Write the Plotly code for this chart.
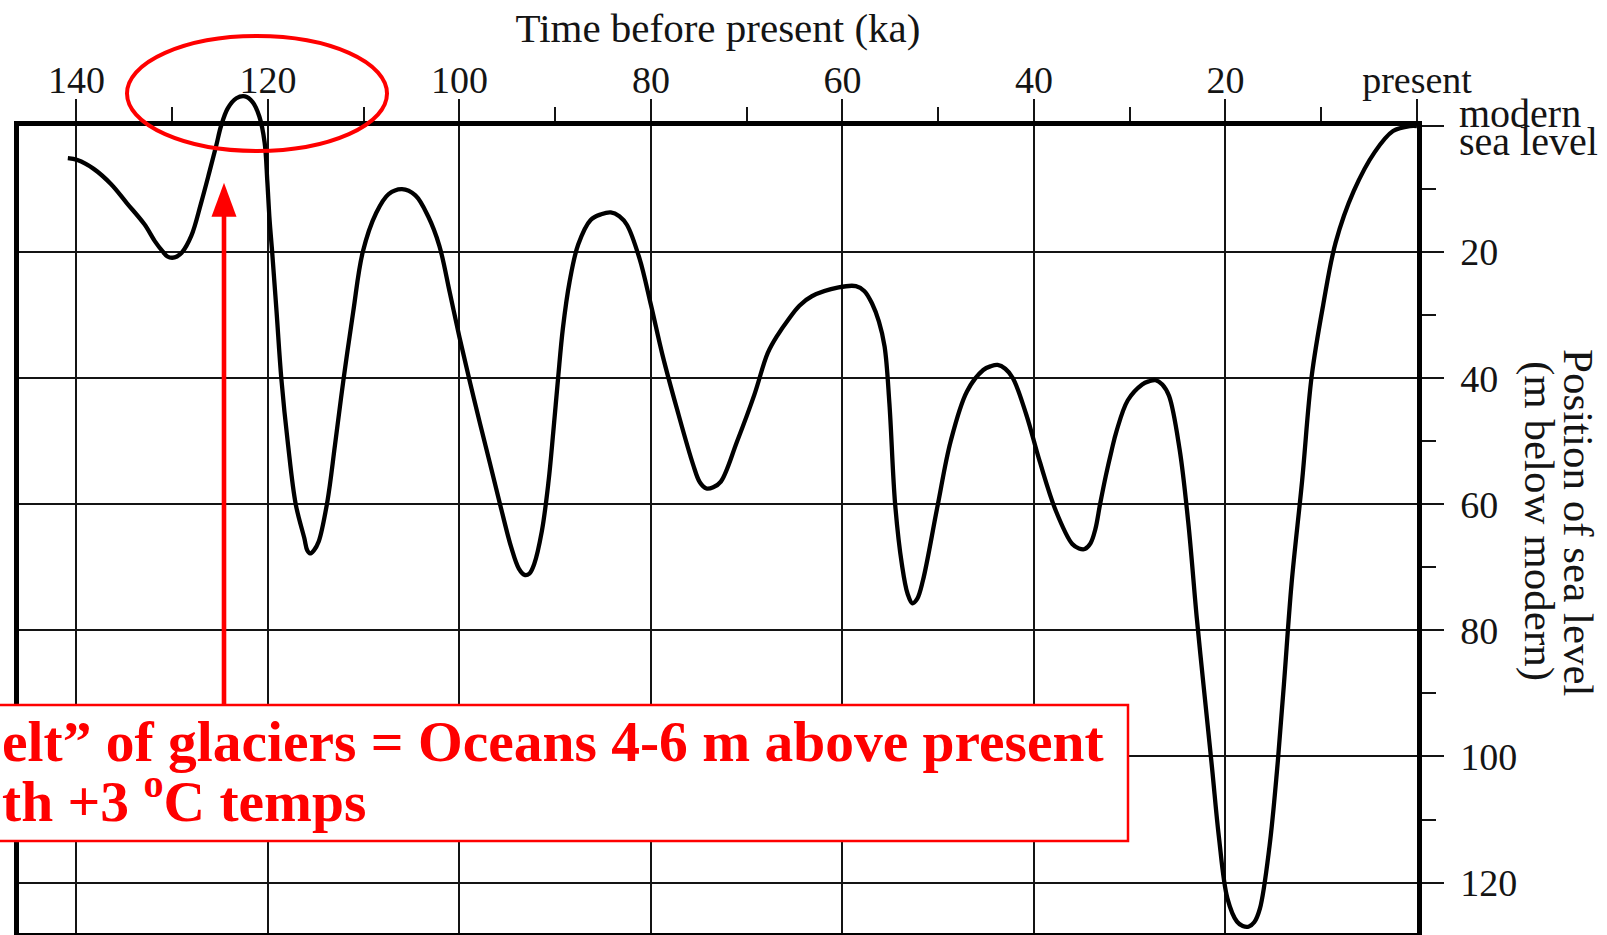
import plotly.graph_objects as go

# ---------------- data ----------------
age_ka = [140.9, 139.9, 138.2, 136.4, 134.7, 132.9, 131.8, 131.0, 130.5, 130.0,
          129.5, 129.0, 128.0, 127.0, 126.1, 125.4, 124.9, 124.2, 123.3, 122.4,
          121.6, 120.9, 120.35, 120.07, 119.83, 119.56, 119.1, 118.6, 117.9, 117.1,
          116.2, 115.9, 115.6, 115.2, 114.7, 113.8, 113.0, 112.1, 111.1, 110.1,
          108.7, 107.4, 106.0, 104.6, 103.25, 102.1, 101.0, 100.0, 98.5, 96.8,
          95.6, 94.6, 93.8, 93.2, 92.7, 92.2, 91.4, 90.7, 90.2, 89.7,
          89.2, 88.5, 87.6, 86.3, 85.2, 84.2, 83.3, 82.5, 81.2, 80.0,
          78.8, 77.3, 75.6, 74.9, 74.2, 73.5, 72.7, 71.0, 69.2, 67.8,
          66.7, 65.7, 64.5, 63.2, 60.4, 58.6, 57.7, 56.9, 56.2, 55.6,
          55.1, 54.5, 53.8, 53.2, 52.7, 52.2, 51.6, 50.1, 48.7, 47.0,
          45.3, 44.5, 43.8, 43.0, 42.2, 40.8, 39.4, 37.7, 36.0, 35.3,
          34.7, 34.1, 33.6, 33.1, 32.5, 31.9, 31.4, 30.2, 28.7, 28.0,
          27.3, 26.6, 25.9, 24.8, 23.9, 23.0, 22.3, 21.4, 20.7, 19.8,
          18.8, 18.2, 17.6, 17.0, 16.4, 15.4, 14.6, 13.9, 13.1, 12.0,
          11.0, 9.8, 8.5, 6.6, 4.4, 2.5, 0.7, 0.0]
sea_level_m = [5.1, 5.4, 6.8, 9.2, 12.3, 15.6, 18.3, 19.9, 20.7, 20.9,
               20.7, 20.1, 17.4, 12.3, 7.2, 3.1, 0.0, -2.8, -4.4, -4.7,
               -3.8, -1.5, 2.6, 8.7, 14.9, 20.0, 29.5, 40.1, 50.6, 60.0,
               65.4, 67.3, 67.8, 67.3, 65.9, 59.6, 50.6, 40.1, 29.5, 20.0,
               13.8, 10.8, 10.0, 11.0, 14.4, 19.0, 26.5, 33.5, 43.2, 53.6,
               61.0, 66.8, 70.2, 71.2, 71.0, 69.5, 64.3, 56.4, 48.5, 40.0,
               32.1, 24.7, 18.8, 14.9, 14.0, 13.7, 14.3, 15.7, 21.0, 28.4,
               36.3, 44.8, 53.7, 56.5, 57.5, 57.3, 56.4, 50.0, 42.6, 36.0,
               33.0, 30.8, 28.5, 27.0, 25.6, 25.4, 26.2, 28.2, 31.0, 35.0,
               44.0, 60.0, 69.5, 74.2, 75.7, 75.0, 72.1, 60.5, 50.0, 42.1,
               38.7, 38.1, 37.9, 38.5, 40.0, 45.8, 53.2, 61.1, 66.3, 67.0,
               67.1, 66.2, 64.0, 60.0, 55.5, 51.5, 48.5, 43.5, 41.0, 40.5,
               40.3, 41.0, 42.8, 51.2, 62.7, 78.0, 88.6, 101.9, 112.6, 122.5,
               126.2, 126.9, 127.0, 126.3, 124.1, 114.2, 101.9, 88.6, 72.6, 56.3,
               39.7, 28.4, 18.5, 10.3, 4.1, 0.8, 0.0, 0.0]

x_major_ticks = [140, 120, 100, 80, 60, 40, 20, 0]
x_major_labels = ["140", "120", "100", "80", "60", "40", "20", "present"]
x_minor_ticks = [130, 110, 90, 70, 50, 30, 10]
y_major_ticks = [0, 20, 40, 60, 80, 100, 120]
y_major_labels = ["", "20", "40", "60", "80", "100", "120"]
y_minor_ticks = [10, 30, 50, 70, 90, 110]

x_title = "Time before present (ka)"
y_title_lines = ["Position of sea level", "(m below modern)"]
zero_label_lines = ["modern", "sea level"]
note_lines = ["elt\u201d of glaciers = Oceans 4-6 m above present",
              "th +3 <sup>o</sup>C temps"]

# ---------------- geometry ----------------
W, H = 1607, 935
ML, MR, MT, MB = 19, 190, 60, 2
PW = W - ML - MR
PH = H - MT - MB
FRAME_TOP = 126
FRAME_BOTTOM = H - MB
X_RANGE = [146, 0]
Y_MAX = 128
px_per_m = (FRAME_BOTTOM - FRAME_TOP) / Y_MAX
main_dom_top = (FRAME_BOTTOM - FRAME_TOP) / PH
y2_top = Y_MAX - PH / px_per_m


def fx(px):
    return (px - ML) / PW


def fy(py):
    return (H - MB - py) / PH


SERIF = "Liberation Serif, Times New Roman, serif"
INK = "#141414"
RED = "#ff0000"

fig = go.Figure()
# empty trace to hold the framed subplot
fig.add_trace(go.Scatter(x=[], y=[], xaxis="x", yaxis="y", showlegend=False))
# the sea-level curve, drawn on an overlay that extends above the frame
fig.add_trace(go.Scatter(
    x=age_ka, y=sea_level_m, mode="lines",
    line=dict(color="black", width=4.3, shape="spline", smoothing=1.0),
    xaxis="x2", yaxis="y2", showlegend=False, hoverinfo="skip"))

tickfont = dict(family=SERIF, size=38, color=INK)

fig.update_layout(
    width=W, height=H,
    margin=dict(l=ML, r=MR, t=MT, b=MB, autoexpand=False),
    paper_bgcolor="white", plot_bgcolor="rgba(0,0,0,0)",
    showlegend=False,
    xaxis=dict(
        domain=[0, 1], range=X_RANGE, side="top", anchor="y",
        tickmode="array", tickvals=x_major_ticks, ticktext=x_major_labels,
        ticks="outside", ticklen=22, tickwidth=1.6, tickcolor=INK,
        showgrid=True, gridcolor=INK, gridwidth=1.5,
        showline=True, linecolor="black", linewidth=4.5, mirror=True,
        zeroline=False, tickfont=tickfont, ticklabelstandoff=-9,
        minor=dict(tickvals=x_minor_ticks, ticks="outside", ticklen=14,
                   tickwidth=1.6, tickcolor=INK, showgrid=False),
        title=dict(text=x_title, font=dict(family=SERIF, size=41, color=INK),
                   standoff=5),
        automargin=False, fixedrange=True,
    ),
    yaxis=dict(
        domain=[0, main_dom_top], range=[Y_MAX, 0], side="right", anchor="x",
        tickmode="array", tickvals=y_major_ticks, ticktext=y_major_labels,
        ticks="outside", ticklen=22, tickwidth=1.6, tickcolor=INK,
        showgrid=True, gridcolor=INK, gridwidth=1.5,
        showline=True, linecolor="black", linewidth=4.5, mirror=True,
        zeroline=False, tickfont=tickfont, ticklabelstandoff=9,
        minor=dict(tickvals=y_minor_ticks, ticks="outside", ticklen=14,
                   tickwidth=1.6, tickcolor=INK, showgrid=False),
        automargin=False, fixedrange=True,
    ),
    xaxis2=dict(domain=[0, 1], range=X_RANGE, anchor="y2", visible=False,
                fixedrange=True),
    yaxis2=dict(domain=[0, 1], range=[Y_MAX, y2_top], anchor="x2",
                visible=False, fixedrange=True),
)

shapes = [
    # white note box with red border (covers grid)
    dict(type="rect", xref="paper", yref="paper",
         x0=fx(-10), x1=fx(1128), y0=fy(841), y1=fy(705),
         fillcolor="white", line=dict(color=RED, width=2.5), layer="above"),
    # red ellipse around the last-interglacial peak
    dict(type="circle", xref="paper", yref="paper",
         x0=fx(127), x1=fx(387), y0=fy(151), y1=fy(36),
         line=dict(color=RED, width=4), layer="above"),
    # arrow shaft
    dict(type="line", xref="paper", yref="paper",
         x0=fx(224), x1=fx(224), y0=fy(706), y1=fy(212),
         line=dict(color=RED, width=4.6), layer="above"),
    # arrow head
    dict(type="path", xref="paper", yref="paper",
         path=(f"M {fx(211.5)},{fy(216.7)} L {fx(236.5)},{fy(216.7)} "
               f"L {fx(224)},{fy(182.7)} Z"),
         fillcolor=RED, line=dict(width=0), layer="above"),
]

annotations = [
    dict(text=zero_label_lines[0], xref="paper", yref="paper", x=fx(1457), y=fy(113),
         xanchor="left", yanchor="middle", showarrow=False,
         font=dict(family=SERIF, size=40, color=INK)),
    dict(text=zero_label_lines[1], xref="paper", yref="paper", x=fx(1457), y=fy(141),
         xanchor="left", yanchor="middle", showarrow=False,
         font=dict(family=SERIF, size=40, color=INK)),
    dict(text=y_title_lines[0], xref="paper", yref="paper", x=fx(1579), y=fy(523),
         xanchor="center", yanchor="middle", textangle=90, showarrow=False,
         font=dict(family=SERIF, size=43, color=INK)),
    dict(text=y_title_lines[1], xref="paper", yref="paper", x=fx(1539), y=fy(521),
         xanchor="center", yanchor="middle", textangle=90, showarrow=False,
         font=dict(family=SERIF, size=43, color=INK)),
    dict(text="<b>" + note_lines[0] + "</b>", xref="paper", yref="paper", x=fx(0), y=fy(741),
         xanchor="left", yanchor="middle", showarrow=False,
         font=dict(family=SERIF, size=57.5, color=RED)),
    dict(text="<b>" + note_lines[1] + "</b>", xref="paper", yref="paper", x=fx(0), y=fy(797),
         xanchor="left", yanchor="middle", showarrow=False,
         font=dict(family=SERIF, size=57.5, color=RED)),
]

fig.update_layout(shapes=shapes, annotations=annotations)

fig.write_html(
    "out.html",
    config={"displayModeBar": False},
    post_script="document.body.style.margin='0px';document.body.style.overflow='hidden';",
)
